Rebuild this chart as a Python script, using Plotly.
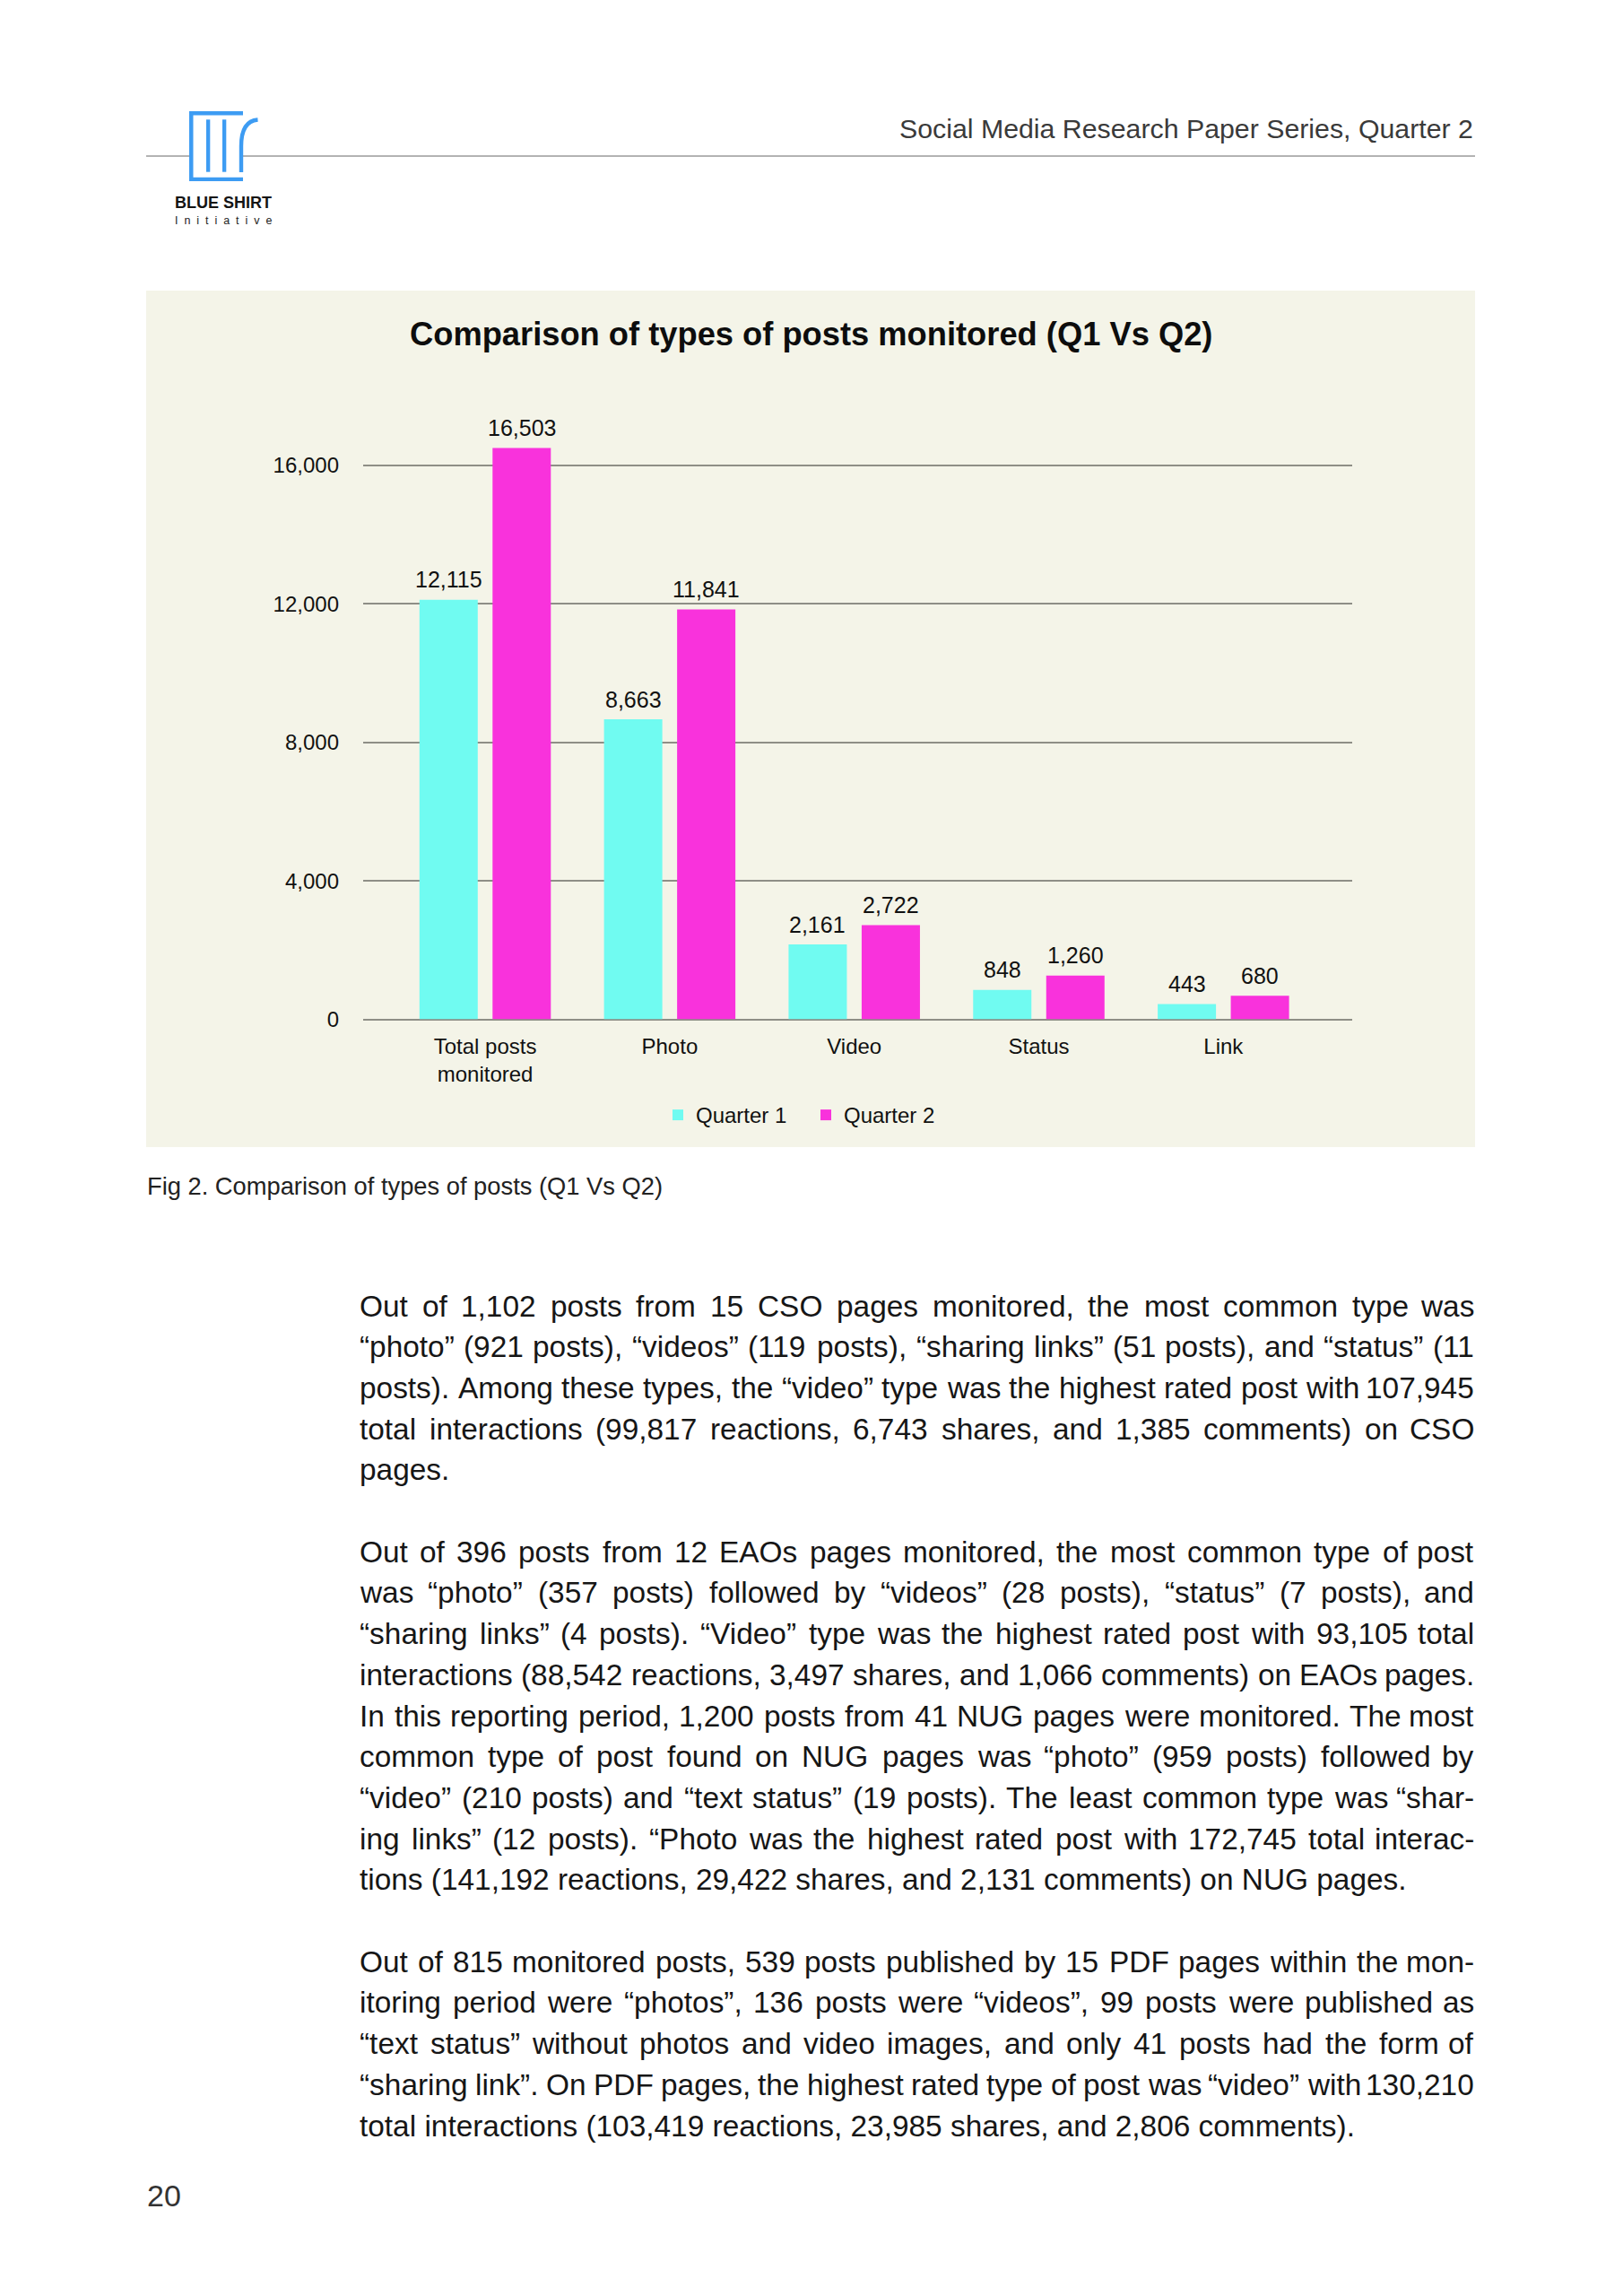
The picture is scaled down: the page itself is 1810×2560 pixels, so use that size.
import plotly.graph_objects as go

PAGE_W, PAGE_H = 1810, 2560
OFF = 8  # default page body margin
W, H = PAGE_W - 2 * OFF, PAGE_H - 2 * OFF  # figure size so the page is exactly 1810x2560

# ---------------- data ----------------
categories = ["Total posts monitored", "Photo", "Video", "Status", "Link"]
tick_labels = ["Total posts<br>monitored", "Photo", "Video", "Status", "Link"]
quarter1 = [12115, 8663, 2161, 848, 443]
quarter2 = [16503, 11841, 2722, 1260, 680]
y_ticks = [0, 4000, 8000, 12000, 16000]
series_names = ["Quarter 1", "Quarter 2"]

chart_title = "Comparison of types of posts monitored (Q1 Vs Q2)"
header_text = "Social Media Research Paper Series, Quarter 2"
caption_text = "Fig 2. Comparison of types of posts (Q1 Vs Q2)"
page_number = "20"

paragraph1 = [
    "Out of 1,102 posts from 15 CSO pages monitored, the most common type was",
    "“photo” (921 posts), “videos” (119 posts), “sharing links” (51 posts), and “status” (11",
    "posts). Among these types, the “video” type was the highest rated post with 107,945",
    "total interactions (99,817 reactions, 6,743 shares, and 1,385 comments) on CSO",
    "pages.",
]
paragraph2 = [
    "Out of 396 posts from 12 EAOs pages monitored, the most common type of post",
    "was “photo” (357 posts) followed by “videos” (28 posts), “status” (7 posts), and",
    "“sharing links” (4 posts). “Video” type was the highest rated post with 93,105 total",
    "interactions (88,542 reactions, 3,497 shares, and 1,066 comments) on EAOs pages.",
    "In this reporting period, 1,200 posts from 41 NUG pages were monitored. The most",
    "common type of post found on NUG pages was “photo” (959 posts) followed by",
    "“video” (210 posts) and “text status” (19 posts). The least common type was “shar-",
    "ing links” (12 posts). “Photo was the highest rated post with 172,745 total interac-",
    "tions (141,192 reactions, 29,422 shares, and 2,131 comments) on NUG pages.",
]
paragraph3 = [
    "Out of 815 monitored posts, 539 posts published by 15 PDF pages within the mon-",
    "itoring period were “photos”, 136 posts were “videos”, 99 posts were published as",
    "“text status” without photos and video images, and only 41 posts had the form of",
    "“sharing link”. On PDF pages, the highest rated type of post was “video” with 130,210",
    "total interactions (103,419 reactions, 23,985 shares, and 2,806 comments).",
]

# ---------------- styles ----------------
CYAN = "#70FBF1"
MAGENTA = "#F932DC"
BOX = "#F4F4E8"
GRID = "#8E8E86"
BLUE = "#3D9CF3"
FONT = "Liberation Sans, Arial, Helvetica, sans-serif"


def px(x):
    return (x - OFF) / W


def py(y):
    return 1 - (y - OFF) / H


# Helvetica / Arial advance widths (per 1000 em) for justification
HELV = {' ': 278, '!': 278, '"': 355, '#': 556, '$': 556, '%': 889, '&': 667,
        "'": 191, '(': 333, ')': 333, '*': 389, '+': 584, ',': 278, '-': 333,
        '.': 278, '/': 278, ':': 278, ';': 278, '?': 556, '@': 1015,
        '“': 333, '”': 333, '’': 222, '‘': 222}
for d in "0123456789":
    HELV[d] = 556
HELV.update(dict(A=667, B=667, C=722, D=722, E=667, F=611, G=778, H=722, I=278,
                 J=500, K=667, L=556, M=833, N=722, O=778, P=667, Q=778, R=722,
                 S=667, T=611, U=722, V=667, W=944, X=667, Y=667, Z=611))
HELV.update(dict(a=556, b=556, c=500, d=556, e=556, f=278, g=556, h=556, i=222,
                 j=222, k=500, l=222, m=833, n=556, o=556, p=556, q=556, r=333,
                 s=500, t=278, u=556, v=500, w=722, x=500, y=500, z=500))


def text_width(s, size):
    return sum(HELV.get(c, 556) for c in s) * size / 1000.0


fig = go.Figure()

fig.add_trace(go.Bar(name=series_names[0], x=categories, y=quarter1,
                     marker=dict(color=CYAN, line=dict(width=0)), hoverinfo="skip"))
fig.add_trace(go.Bar(name=series_names[1], x=categories, y=quarter2,
                     marker=dict(color=MAGENTA, line=dict(width=0)), hoverinfo="skip"))

annotations = []

# value labels above bars
for vals, shift in ((quarter1, -40.75), (quarter2, 40.75)):
    for c, v in zip(categories, vals):
        annotations.append(dict(x=c, y=v, xref="x", yref="y", text=f"{v:,}",
                                showarrow=False, xanchor="center", yanchor="bottom",
                                xshift=shift, yshift=6.5,
                                font=dict(family=FONT, size=25, color="#111111")))

# chart title
annotations.append(dict(x=px(904), y=py(372), xref="paper", yref="paper",
                        text=f"<b>{chart_title}</b>", showarrow=False,
                        xanchor="center", yanchor="middle",
                        font=dict(family=FONT, size=36.3, color="#0d0d0d")))

# header text
annotations.append(dict(x=px(1645), y=py(144), xref="paper", yref="paper",
                        text=header_text, showarrow=False,
                        xanchor="right", yanchor="middle",
                        font=dict(family=FONT, size=30.3, color="#3a3a3a")))

# logo text
annotations.append(dict(x=px(193), y=py(226), xref="paper", yref="paper",
                        text="<b>BLUE SHIRT</b>", showarrow=False,
                        xanchor="left", yanchor="middle",
                        font=dict(family=FONT, size=18, color="#141414")))
annotations.append(dict(x=px(193), y=py(246), xref="paper", yref="paper",
                        text="\u00a0\u00a0".join("Initiative"), showarrow=False,
                        xanchor="left", yanchor="middle",
                        font=dict(family=FONT, size=12.5, color="#222222")))

# caption
annotations.append(dict(x=px(162), y=py(1322), xref="paper", yref="paper",
                        text=caption_text, showarrow=False,
                        xanchor="left", yanchor="middle",
                        font=dict(family=FONT, size=27.3, color="#222222")))

# page number
annotations.append(dict(x=px(162), y=py(2448), xref="paper", yref="paper",
                        text=page_number, showarrow=False,
                        xanchor="left", yanchor="middle",
                        font=dict(family=FONT, size=34, color="#333333")))

# body text, justified
BODY_FS = 33.4
LEFT, RIGHT = 400, 1645
LINE_H = 45.7


def add_line(line, yc, justify):
    f = dict(family=FONT, size=BODY_FS, color="#161616")
    if not justify:
        annotations.append(dict(x=px(LEFT), y=py(yc), xref="paper", yref="paper",
                                text=line, showarrow=False, xanchor="left",
                                yanchor="middle", font=f, borderpad=0))
        return
    words = line.split(" ")
    widths = [text_width(w, BODY_FS) for w in words]
    gap = (RIGHT - LEFT - sum(widths)) / (len(words) - 1)
    x = LEFT
    for i, w in enumerate(words):
        if i == len(words) - 1:
            annotations.append(dict(x=px(RIGHT), y=py(yc), xref="paper", yref="paper",
                                    text=w, showarrow=False, xanchor="right",
                                    yanchor="middle", font=f, borderpad=0))
        else:
            annotations.append(dict(x=px(x), y=py(yc), xref="paper", yref="paper",
                                    text=w, showarrow=False, xanchor="left",
                                    yanchor="middle", font=f, borderpad=0))
        x += widths[i] + gap


for para, start in ((paragraph1, 1456), (paragraph2, 1730.2), (paragraph3, 2187.2)):
    for k, line in enumerate(para):
        add_line(line, start + k * LINE_H, justify=(k < len(para) - 1))

# ---------------- shapes ----------------
shapes = []
# chart background box
shapes.append(dict(type="rect", xref="paper", yref="paper",
                   x0=px(163), x1=px(1645), y0=py(1279), y1=py(324),
                   fillcolor=BOX, line=dict(width=0), layer="below"))
# header rule (interrupted by logo)
for a, b in ((163, 211), (271, 1645)):
    shapes.append(dict(type="line", xref="paper", yref="paper",
                       x0=px(a), x1=px(b), y0=py(174), y1=py(174),
                       line=dict(color="#9a9a9a", width=1.5)))
# logo bars
for (x0, y0, x1, y1) in ((211, 124, 271, 128.5), (211, 124, 215.5, 202),
                         (211, 197.7, 271, 202), (230, 133.3, 234.3, 191.7),
                         (248, 133.3, 252.3, 191.7)):
    shapes.append(dict(type="rect", xref="paper", yref="paper",
                       x0=px(x0), x1=px(x1), y0=py(y1), y1=py(y0),
                       fillcolor=BLUE, line=dict(width=0)))
shapes.append(dict(type="path", xref="paper", yref="paper",
                   path=(f"M {px(269)},{py(192)} L {px(269)},{py(163)} "
                         f"Q {px(269)},{py(135)} {px(287.5)},{py(133.5)}"),
                   line=dict(color=BLUE, width=4.4), fillcolor="rgba(0,0,0,0)"))

fig.update_layout(
    width=W, height=H, autosize=False,
    margin=dict(l=0, r=0, t=0, b=0, pad=0, autoexpand=False),
    paper_bgcolor="white", plot_bgcolor="rgba(0,0,0,0)",
    font=dict(family=FONT, color="#111111"),
    barmode="group", bargap=0.208, bargroupgap=0.2025,
    showlegend=True,
    legend=dict(orientation="h", x=px(901), xanchor="center",
                y=py(1243.5), yanchor="middle", entrywidth=120, entrywidthmode="pixels",
                bgcolor="rgba(0,0,0,0)", font=dict(family=FONT, size=24, color="#111111"),
                traceorder="normal"),
    xaxis=dict(type="category", categoryorder="array", categoryarray=categories,
               tickvals=categories, ticktext=tick_labels,
               range=[-0.661, 4.698], domain=[px(405), px(1508)],
               showgrid=False, zeroline=False, showline=False, ticks="",
               ticklabelstandoff=13, automargin=False,
               tickfont=dict(family=FONT, size=24, color="#111111"), fixedrange=True),
    yaxis=dict(range=[0, 17000], domain=[py(1136.5), py(480.3)],
               tickvals=y_ticks, tickformat=",", showgrid=True,
               gridcolor=GRID, gridwidth=2, zeroline=True, zerolinecolor=GRID,
               zerolinewidth=2, showline=False, ticks="", ticklabelstandoff=26,
               automargin=False,
               tickfont=dict(family=FONT, size=24, color="#111111"), fixedrange=True),
    annotations=annotations,
    shapes=shapes,
)

fig.write_html("out.html", config={"displayModeBar": False})
